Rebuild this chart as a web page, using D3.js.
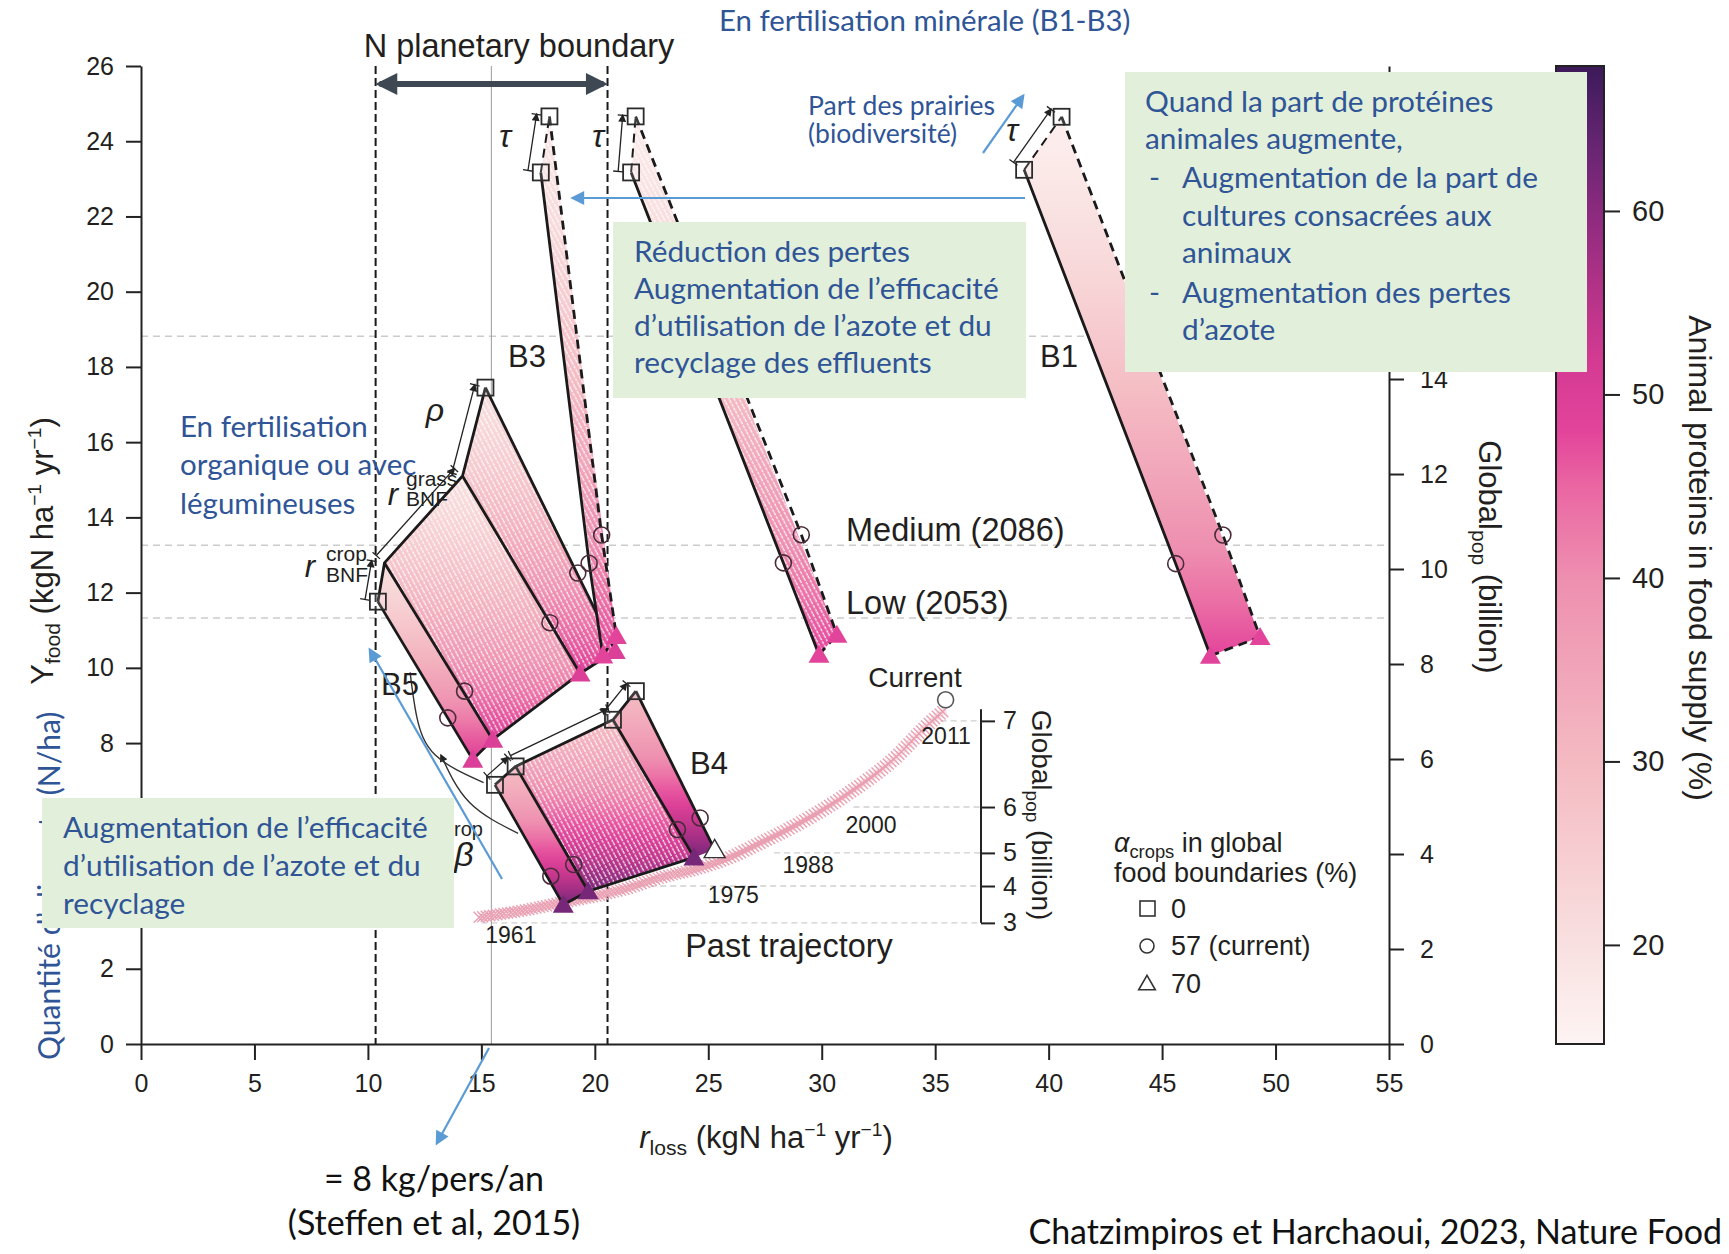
<!DOCTYPE html>
<html>
<head>
<meta charset="utf-8">
<script src="https://cdn.jsdelivr.net/npm/d3@7/dist/d3.min.js"></script>
<style>
  body { margin: 0; background: #fff; }
  text { font-family: "Liberation Sans", Arial, sans-serif; fill: #231f20; }
  text.note { font-family: Lato, "Open Sans", sans-serif; fill: #2f5597; }
  text.black { font-family: Lato, "Open Sans", sans-serif; fill: #111; }
</style>
</head>
<body>
<svg id="chart" width="1729" height="1254"></svg>
<script>
// ---------- values ----------
const xTicks = d3.range(0, 56, 5);
const yTicks = d3.range(0, 27, 2);
const popTicks = d3.range(0, 21, 2);
const popScenarioLines = [14.9, 10.5, 8.97];     // global pop (billion)
const nBoundary = [10.34, 20.56];                // r_loss, N planetary boundary
const nBoundaryMid = 15.44;
const proteinTicks = [20, 30, 40, 50, 60];
const proteinRange = [14.6, 67.9];
const cbarStops  = [14.6, 20, 30, 40, 45, 48, 52, 56, 60, 64, 67.9];
const cbarColors = ["#fdf4f3", "#f9e0e0", "#f4bac2", "#ee8fb0", "#ea66a2", "#e3449b",
                    "#d33a92", "#b03286", "#8b2a7f", "#622470", "#3c1a5a"];

// mineral fertilisation scenarios: [r_loss, Y_food]
const b1Squares   = [[38.92, 23.24], [40.57, 24.65]];
const b1Circles   = [[45.6, 12.77], [47.68, 13.53]];
const b1Triangles = [[47.13, 10.32], [49.32, 10.82]];
const b2Squares   = [[21.6, 23.17], [21.8, 24.66]];
const b2Circles   = [[28.31, 12.79], [29.1, 13.54]];
const b2Triangles = [[29.88, 10.35], [30.67, 10.88]];
const b3Squares   = [[17.62, 23.17], [18.0, 24.66]];
const b3Circles   = [[19.75, 12.78], [20.3, 13.53]];
const b3Triangles = [[20.35, 10.33], [20.95, 10.85]];
// organic / legume scenarios
const b5Squares   = [[10.44, 11.76], [15.18, 17.45]];
const b5Corners   = [[10.73, 12.79], [14.17, 15.1]];
const b5Circles   = [[13.52, 8.67], [14.26, 9.38], [18.02, 11.2], [19.25, 12.52]];
const b5Triangles = [[14.62, 7.56], [15.5, 8.09], [19.35, 9.85], [20.9, 10.45]];
const b4Squares   = [[15.6, 6.89], [16.51, 7.38], [20.8, 8.62], [21.81, 9.38]];
const b4Circles   = [[18.06, 4.46], [19.07, 4.77], [23.64, 5.7], [24.64, 6.01]];
const b4Triangles = [[18.61, 3.7], [19.71, 4.06], [24.37, 4.96], [25.28, 5.17]];

const scenarioNames = ["B1", "B2", "B3", "B4", "B5"];
const proteinTop    = [16, 17, 18, 30, 20];
const proteinBottom = [48, 48, 48, 62, 50];

// past trajectory 1961-2011
const pastLoss = [14.9, 16.84, 18.45, 20.0, 21.36, 22.91, 24.32, 25.83, 27.28, 28.74, 30.19, 31.65, 33.11, 34.56, 35.44];
const pastFood = [3.37, 3.55, 3.75, 3.93, 4.13, 4.43, 4.63, 4.93, 5.34, 5.78, 6.28, 6.86, 7.54, 8.42, 8.89];
const currentPoint = [35.46, 9.15];
const pastPopTicks = [3, 4, 5, 6, 7];
const pastPopFood = [3.22, 4.2, 5.08, 6.3, 8.59];
const pastPopLineStart = [15.0, 22.0, 27.9, 31.4, 34.8];
const pastYears = ["1961", "1975", "1988", "2000", "2011"];

// ---------- layout ----------
const svg = d3.select("#chart");
const x = d3.scaleLinear().domain([0, 55]).range([141, 1389]);
const y = d3.scaleLinear().domain([0, 26]).range([1044, 66]);
const yPop = d3.scaleLinear().domain([0, 20.59]).range([1044, 66]);
const yProt = d3.scaleLinear().domain(proteinRange).range([1044, 66]);
const colour = d3.scaleLinear().domain(cbarStops).range(cbarColors).clamp(true);
const innerAxisX = 37.02;
const yearLabelPos = [[16.3, 2.9], [26.1, 3.96], [29.4, 4.77], [32.17, 5.83], [35.48, 8.18]];
// green note boxes of the slide [x, y, w, h]
const noteRects = [[613, 222, 413, 176], [1125, 72, 462, 300], [42, 798, 412, 130]];
const underNote = (px, py) => noteRects.some(r => px > r[0] && px < r[0] + r[2] && py > r[1] && py < r[1] + r[3]);

const defs = svg.append("defs");
const hatch = defs.append("pattern").attr("id", "hatch").attr("patternUnits", "userSpaceOnUse")
  .attr("width", 4.5).attr("height", 12).attr("patternTransform", "rotate(-28)");
hatch.append("line").attr("x1", 2).attr("x2", 2).attr("y1", 0).attr("y2", 12)
  .attr("stroke", "#fff").attr("stroke-width", 1.3).attr("stroke-opacity", 0.9)
  .attr("stroke-dasharray", "3,1.2");

function marker(id, fill, w, h) {
  defs.append("marker").attr("id", id).attr("viewBox", "0 0 10 10").attr("refX", 8).attr("refY", 5)
    .attr("markerUnits", "userSpaceOnUse").attr("markerWidth", w).attr("markerHeight", h)
    .attr("orient", "auto-start-reverse")
    .append("path").attr("d", "M0,0L10,5L0,10Z").attr("fill", fill);
}
marker("arrSmall", "#222", 9, 8);
marker("arrBlue", "#5b9bd5", 16, 14);
marker("arrBig", "#3d4852", 24, 22);

// ---------- grid & reference lines ----------
const grid = svg.append("g");
popScenarioLines.forEach(v => grid.append("line")
  .attr("x1", x(0)).attr("x2", x(55)).attr("y1", yPop(v)).attr("y2", yPop(v))
  .attr("stroke", "#cbcbcb").attr("stroke-width", 1.6).attr("stroke-dasharray", "7,5"));
pastPopFood.forEach((v, i) => grid.append("line")
  .attr("x1", x(pastPopLineStart[i])).attr("x2", x(innerAxisX)).attr("y1", y(v)).attr("y2", y(v))
  .attr("stroke", "#cfcfcf").attr("stroke-width", 1.3).attr("stroke-dasharray", "6,4"));
grid.append("line").attr("x1", x(nBoundaryMid)).attr("x2", x(nBoundaryMid)).attr("y1", y(26)).attr("y2", y(0))
  .attr("stroke", "#9a9a9a").attr("stroke-width", 1);
nBoundary.forEach(v => grid.append("line").attr("x1", x(v)).attr("x2", x(v)).attr("y1", y(26)).attr("y2", y(0))
  .attr("stroke", "#1a1a1a").attr("stroke-width", 2).attr("stroke-dasharray", "8,4"));

// ---------- past trajectory ----------
const past = svg.append("g");
const pastLine = d3.line().curve(d3.curveCatmullRom).x((d, i) => x(pastLoss[i])).y((d, i) => y(pastFood[i]));
past.append("path").attr("d", pastLine(pastLoss)).attr("fill", "none")
  .attr("stroke", "#f5d3da").attr("stroke-width", 7).attr("opacity", 0.6);
const pathNode = past.append("path").attr("d", pastLine(pastLoss)).attr("fill", "none").node();
const total = pathNode.getTotalLength();
let crossD = "";
for (let s = 0; s <= total; s += 3.6) {
  const p = pathNode.getPointAtLength(s);
  crossD += `M${p.x - 5.5},${p.y - 5.5}L${p.x + 5.5},${p.y + 5.5}M${p.x - 5.5},${p.y + 5.5}L${p.x + 5.5},${p.y - 5.5}`;
}
past.append("path").attr("d", crossD).attr("stroke", "#e9a0b2").attr("stroke-width", 1.4).attr("fill", "none");

// ---------- scenario bands ----------
let gradCount = 0;
function bandPath(pts) { return "M" + pts.map(p => x(p[0]) + "," + y(p[1])).join("L") + "Z"; }
function band(layer, pts, k, hatched) {
  const ys = pts.map(p => y(p[1]));
  const id = "grad" + (gradCount++);
  const g = defs.append("linearGradient").attr("id", id).attr("gradientUnits", "userSpaceOnUse")
    .attr("x1", 0).attr("x2", 0).attr("y1", d3.min(ys)).attr("y2", d3.max(ys));
  d3.range(0, 1.001, 0.1).forEach(t => g.append("stop").attr("offset", t)
    .attr("stop-color", colour(proteinTop[k] + (proteinBottom[k] - proteinTop[k]) * Math.pow(t, 1.3))));
  layer.append("path").attr("d", bandPath(pts)).attr("fill", `url(#${id})`);
  if (hatched) layer.append("path").attr("d", bandPath(pts)).attr("fill", "url(#hatch)");
}
function seg(layer, pts, dashed, w) {
  layer.append("path").attr("d", d3.line().x(p => x(p[0])).y(p => y(p[1]))(pts))
    .attr("fill", "none").attr("stroke", "#1a1a1a").attr("stroke-width", w || 2.8)
    .attr("stroke-linejoin", "round").attr("stroke-dasharray", dashed ? "9,6" : null);
}
function bracket(layer, a, b, off) {
  const ax = x(a[0]), ay = y(a[1]), bx = x(b[0]), by = y(b[1]);
  const dx = bx - ax, dy = by - ay, L = Math.hypot(dx, dy);
  const nx = dy / L, ny = -dx / L;
  const p1 = [ax + nx * off, ay + ny * off], p2 = [bx + nx * off, by + ny * off];
  layer.append("line").attr("x1", p1[0]).attr("y1", p1[1]).attr("x2", p2[0]).attr("y2", p2[1])
    .attr("stroke", "#222").attr("stroke-width", 1.3).attr("marker-end", "url(#arrSmall)");
  [p1, p2].forEach(p => layer.append("line")
    .attr("x1", p[0] - nx * 5).attr("y1", p[1] - ny * 5).attr("x2", p[0] + nx * 5).attr("y2", p[1] + ny * 5)
    .attr("stroke", "#222").attr("stroke-width", 1.3));
}
function drawSquares(layer, pts) {
  layer.selectAll(null).data(pts).join("rect")
    .attr("x", p => x(p[0]) - 8).attr("y", p => y(p[1]) - 8).attr("width", 16).attr("height", 16)
    .attr("fill", "rgba(255,255,255,0.15)").attr("stroke", "#2b2b2b").attr("stroke-width", 1.8);
}
function drawCircles(layer, pts) {
  layer.selectAll(null).data(pts).join("circle")
    .attr("cx", p => x(p[0])).attr("cy", p => y(p[1])).attr("r", 8)
    .attr("fill", "none").attr("stroke", "#4b2b3b").attr("stroke-width", 1.6);
}
function drawTriangles(layer, pts, fill, hollowLast) {
  layer.selectAll(null).data(pts).join("path")
    .attr("d", d3.symbol(d3.symbolTriangle, 190))
    .attr("transform", p => `translate(${x(p[0])},${y(p[1]) + 2})`)
    .attr("fill", (p, i) => hollowLast && i === pts.length - 1 ? "#fff" : fill)
    .attr("stroke", (p, i) => hollowLast && i === pts.length - 1 ? "#333" : "none")
    .attr("stroke-width", 1.4);
}

// B5
const g5 = svg.append("g");
const k5 = scenarioNames.indexOf("B5");
band(g5, [b5Squares[0], b5Corners[0], b5Triangles[1], b5Triangles[0]], k5, false);
band(g5, [b5Corners[0], b5Corners[1], b5Triangles[2], b5Triangles[1]], k5, true);
band(g5, [b5Corners[1], b5Squares[1], b5Triangles[3], b5Triangles[2]], k5, true);
seg(g5, [b5Squares[0], b5Triangles[0]]);
seg(g5, [b5Corners[0], b5Triangles[1]]);
seg(g5, [b5Corners[1], b5Triangles[2]]);
seg(g5, [b5Squares[1], b5Triangles[3]]);
seg(g5, [b5Triangles[0], b5Triangles[1], b5Triangles[2], b5Triangles[3]]);
seg(g5, [b5Squares[0], b5Corners[0], b5Corners[1], b5Squares[1]]);
bracket(g5, b5Squares[0], b5Corners[0], 13);
bracket(g5, b5Corners[0], b5Corners[1], 11);
bracket(g5, b5Corners[1], b5Squares[1], 11);
drawTriangles(g5, b5Triangles, colour(proteinBottom[k5]));
drawCircles(g5, b5Circles);
drawSquares(g5, b5Squares);

// B4
const g4 = svg.append("g");
const k4 = scenarioNames.indexOf("B4");
band(g4, [b4Squares[0], b4Squares[1], b4Triangles[1], b4Triangles[0]], k4, false);
band(g4, [b4Squares[1], b4Squares[2], b4Triangles[2], b4Triangles[1]], k4, true);
band(g4, [b4Squares[2], b4Squares[3], b4Triangles[3], b4Triangles[2]], k4, false);
b4Squares.forEach((s, i) => seg(g4, [s, b4Triangles[i]]));
seg(g4, b4Squares);
seg(g4, b4Triangles.slice(0, 3));
bracket(g4, b4Squares[0], b4Squares[1], 12);
bracket(g4, b4Squares[1], b4Squares[2], 12);
bracket(g4, b4Squares[2], b4Squares[3], 12);
drawTriangles(g4, b4Triangles, colour(proteinBottom[k4]), true);
drawCircles(g4, b4Circles);
drawSquares(g4, b4Squares);

// B3, B2, B1
[[b3Squares, b3Circles, b3Triangles, "B3", true],
 [b2Squares, b2Circles, b2Triangles, "B2", true],
 [b1Squares, b1Circles, b1Triangles, "B1", false]].forEach(([sq, ci, tr, name, hatched]) => {
  const g = svg.append("g");
  const k = scenarioNames.indexOf(name);
  band(g, [sq[0], sq[1], tr[1], tr[0]], k, hatched);
  seg(g, [sq[0], ci[0], tr[0]]);
  seg(g, [sq[1], ci[1], tr[1]], true);
  seg(g, [tr[0], tr[1]], true);
  seg(g, [sq[0], sq[1]], true, 2);
  bracket(g, sq[0], sq[1], 13);
  drawTriangles(g, tr, colour(proteinBottom[k]));
  drawCircles(g, ci);
  drawSquares(g, sq);
});

// curved arrows near B4 / B5
const curve = d3.line().curve(d3.curveNatural).x(p => x(p[0])).y(p => y(p[1]));
svg.append("path").attr("d", curve([[16.62, 5.6], [14.48, 6.42], [13.22, 7.68]]))
  .attr("fill", "none").attr("stroke", "#333").attr("stroke-width", 1.4).attr("marker-end", "url(#arrSmall)");
svg.append("path").attr("d", curve([[11.86, 9.88], [12.15, 8.71], [12.97, 7.68], [15.1, 6.95]]))
  .attr("fill", "none").attr("stroke", "#333").attr("stroke-width", 1.4);

// past trajectory end point + inner axis
svg.append("circle").attr("cx", x(currentPoint[0])).attr("cy", y(currentPoint[1])).attr("r", 8)
  .attr("fill", "#fff").attr("stroke", "#555").attr("stroke-width", 1.6);
const inner = svg.append("g").attr("transform", `translate(${x(innerAxisX)},0)`)
  .call(d3.axisRight(y).tickValues(pastPopFood).tickFormat((d, i) => pastPopTicks[i]).tickSize(14).tickPadding(8));
inner.select(".domain").remove();
inner.append("line").attr("y1", y(pastPopFood[0])).attr("y2", y(8.9)).attr("stroke", "#222").attr("stroke-width", 2);
inner.selectAll("text").attr("font-size", 25).attr("font-family", "Liberation Sans, Arial, sans-serif").attr("fill", "#231f20");
inner.selectAll(".tick line").attr("stroke", "#222").attr("stroke-width", 2);
pastYears.forEach((t, i) => svg.append("text").attr("x", x(yearLabelPos[i][0])).attr("y", y(yearLabelPos[i][1]))
  .attr("text-anchor", "middle").attr("dominant-baseline", "central").attr("font-size", 23).text(t));

// ---------- axes ----------
function styleAxis(g, fs) {
  g.select(".domain").attr("stroke", "#222").attr("stroke-width", 2);
  g.selectAll(".tick line").attr("stroke", "#222").attr("stroke-width", 2);
  g.selectAll("text").attr("font-size", fs).attr("font-family", "Liberation Sans, Arial, sans-serif").attr("fill", "#231f20");
}
styleAxis(svg.append("g").attr("transform", `translate(${x(0)},0)`)
  .call(d3.axisLeft(y).tickValues(yTicks).tickSize(15).tickSizeOuter(0).tickPadding(12)
    .tickFormat(v => underNote(x(0) - 30, y(v)) ? "" : v)), 25);
styleAxis(svg.append("g").attr("transform", `translate(0,${y(0)})`)
  .call(d3.axisBottom(x).tickValues(xTicks).tickSize(16).tickSizeOuter(0).tickPadding(14)), 25);
styleAxis(svg.append("g").attr("transform", `translate(${x(55)},0)`)
  .call(d3.axisRight(yPop).tickValues(popTicks).tickSize(15).tickSizeOuter(0).tickPadding(16)
    .tickFormat(v => underNote(x(55) + 40, yPop(v)) ? "" : v)), 25);

// N planetary boundary arrow
svg.append("line").attr("x1", x(nBoundary[0]) + 4).attr("x2", x(nBoundary[1]) - 4).attr("y1", 84).attr("y2", 84)
  .attr("stroke", "#3d4852").attr("stroke-width", 6)
  .attr("marker-start", "url(#arrBig)").attr("marker-end", "url(#arrBig)");
svg.append("text").attr("x", 519).attr("y", 57).attr("text-anchor", "middle").attr("font-size", 32.5).text("N planetary boundary");

// axis labels
function subsup(t, parts, fs) {
  parts.forEach(([s, kind, italic]) => {
    const sp = t.append("tspan").text(s);
    if (italic) sp.attr("font-style", "italic");
    if (kind === "sub") sp.attr("font-size", fs * 0.68).attr("dy", fs * 0.22);
    if (kind === "sup") sp.attr("font-size", fs * 0.62).attr("dy", -fs * 0.38);
    if (kind === "back-sub") sp.attr("dy", -fs * 0.22);
    if (kind === "back-sup") sp.attr("dy", fs * 0.38);
  });
}
subsup(svg.append("text").attr("transform", "translate(53,551) rotate(-90)").attr("text-anchor", "middle").attr("font-size", 31),
  [["Y"], ["food", "sub"], [" (kgN ha", "back-sub"], ["−1", "sup"], [" yr", "back-sup"], ["−1", "sup"], [")", "back-sup"]], 31);
subsup(svg.append("text").attr("x", 766).attr("y", 1148).attr("text-anchor", "middle").attr("font-size", 31),
  [["r", null, true], ["loss", "sub"], [" (kgN ha", "back-sub"], ["−1", "sup"], [" yr", "back-sup"], ["−1", "sup"], [")", "back-sup"]], 31);
subsup(svg.append("text").attr("transform", "translate(1479,557) rotate(90)").attr("text-anchor", "middle").attr("font-size", 31),
  [["Global"], ["pop", "sub"], [" (billion)", "back-sub"]], 31);
subsup(svg.append("text").attr("transform", "translate(1032,815) rotate(90)").attr("text-anchor", "middle").attr("font-size", 28),
  [["Global"], ["pop", "sub"], [" (billion)", "back-sub"]], 28);

// ---------- colour bar ----------
const cg = defs.append("linearGradient").attr("id", "cbar").attr("x1", 0).attr("x2", 0).attr("y1", 1).attr("y2", 0);
cbarStops.forEach((s, i) => cg.append("stop")
  .attr("offset", (s - proteinRange[0]) / (proteinRange[1] - proteinRange[0])).attr("stop-color", cbarColors[i]));
svg.append("rect").attr("x", 1556).attr("y", yProt(proteinRange[1])).attr("width", 48)
  .attr("height", yProt(proteinRange[0]) - yProt(proteinRange[1]))
  .attr("fill", "url(#cbar)").attr("stroke", "#222").attr("stroke-width", 2);
const cax = svg.append("g").attr("transform", "translate(1604,0)")
  .call(d3.axisRight(yProt).tickValues(proteinTicks).tickSize(16).tickSizeOuter(0).tickPadding(12));
cax.select(".domain").remove();
styleAxis(cax, 29);
svg.append("text").attr("transform", "translate(1689,558) rotate(90)").attr("text-anchor", "middle")
  .attr("font-size", 32).text("Animal proteins in food supply (%)");

// ---------- chart labels ----------
function label(txt, px, py, fs, anchor, italic) {
  return svg.append("text").attr("x", px).attr("y", py).attr("font-size", fs)
    .attr("text-anchor", anchor || "middle").attr("dominant-baseline", "central")
    .attr("font-style", italic ? "italic" : null).text(txt);
}
label("B3", 527, 356, 31);
label("B1", 1059, 356, 31);
label("B5", 400, 684, 31);
label("B4", 709, 763, 31);
label("Medium (2086)", 846, 530, 32.5, "start");
label("Low (2053)", 846, 603, 32.5, "start");
label("Current", 915, 677, 28);
label("Past trajectory", 789, 946, 32.5);
label("τ", 505, 136, 32, "middle", true);
label("τ", 598, 136, 32, "middle", true);
label("τ", 1012, 130, 32, "middle", true);
label("ρ", 435, 410, 32, "middle", true);
label("β", 464, 854, 34, "middle", true);
label("crop", 444, 829, 20, "start");
label("r", 310, 566, 31, "middle", true);
label("crop", 326, 553, 21, "start");
label("BNF", 326, 574, 21, "start");
label("r", 393, 494, 31, "middle", true);
label("grass", 406, 478, 21, "start");
label("BNF", 406, 498, 21, "start");

// legend
const lg = svg.append("g");
subsup(lg.append("text").attr("x", 1114).attr("y", 852).attr("font-size", 27),
  [["α", null, true], ["crops", "sub"], [" in global", "back-sub"]], 27);
lg.append("text").attr("x", 1114).attr("y", 882).attr("font-size", 27).text("food boundaries (%)");
lg.append("rect").attr("x", 1140).attr("y", 901).attr("width", 15).attr("height", 15)
  .attr("fill", "none").attr("stroke", "#333").attr("stroke-width", 1.6);
lg.append("circle").attr("cx", 1147).attr("cy", 946).attr("r", 7).attr("fill", "none").attr("stroke", "#333").attr("stroke-width", 1.6);
lg.append("path").attr("d", d3.symbol(d3.symbolTriangle, 120)).attr("transform", "translate(1147,985)")
  .attr("fill", "none").attr("stroke", "#333").attr("stroke-width", 1.6);
["0", "57 (current)", "70"].forEach((t, i) => lg.append("text").attr("x", 1171).attr("y", [918, 955, 993][i])
  .attr("font-size", 27).text(t));

// ---------- slide annotations ----------
svg.append("text").attr("class", "note").attr("transform", "translate(60,1060) rotate(-90)")
  .attr("font-size", 30).text("Quantité d’aliments (N/ha)");

function noteBox(r) {
  svg.append("rect").attr("x", r[0]).attr("y", r[1]).attr("width", r[2]).attr("height", r[3]).attr("fill", "#e2efda");
}
function noteLines(lines, px, baselines, fs) {
  lines.forEach((t, i) => svg.append("text").attr("class", "note").attr("x", px[i])
    .attr("y", baselines[i]).attr("font-size", fs).text(t));
}
noteRects.forEach(noteBox);
noteLines(["Réduction des pertes", "Augmentation de l’efficacité", "d’utilisation de l’azote et du", "recyclage des effluents"],
  [634, 634, 634, 634], [262, 299, 336, 373], 29.8);
noteLines(["Quand la part de protéines", "animales augmente,", "-", "Augmentation de la part de",
           "cultures consacrées aux", "animaux", "-", "Augmentation des pertes", "d’azote"],
  [1145, 1145, 1149, 1182, 1182, 1182, 1149, 1182, 1182], [112, 149, 188, 188, 226, 263, 303, 303, 340], 29.8);
noteLines(["Augmentation de l’efficacité", "d’utilisation de l’azote et du", "recyclage"], [63, 63, 63], [838, 876, 914], 29.8);

noteLines(["En fertilisation minérale (B1-B3)"], [719], [31], 29.4);
noteLines(["Part des prairies", "(biodiversité)"], [808, 808], [115, 143], 26.5);
noteLines(["En fertilisation", "organique ou avec", "légumineuses"], [180, 180, 180], [437, 475, 514], 29.5);

function blueArrow(x1, y1, x2, y2) {
  svg.append("line").attr("x1", x1).attr("y1", y1).attr("x2", x2).attr("y2", y2)
    .attr("stroke", "#5b9bd5").attr("stroke-width", 2.2).attr("marker-end", "url(#arrBlue)");
}
blueArrow(1025, 198, 573, 198);
blueArrow(983, 153, 1023, 96);
blueArrow(502, 879, 370, 650);
blueArrow(489, 1048, 437, 1143);

svg.append("text").attr("class", "black").attr("x", 434).attr("y", 1191).attr("text-anchor", "middle")
  .attr("font-size", 34).text("= 8 kg/pers/an");
svg.append("text").attr("class", "black").attr("x", 434).attr("y", 1235).attr("text-anchor", "middle")
  .attr("font-size", 34).text("(Steffen et al, 2015)");
svg.append("text").attr("class", "black").attr("x", 1722).attr("y", 1244).attr("text-anchor", "end")
  .attr("font-size", 34).text("Chatzimpiros et Harchaoui, 2023, Nature Food");
</script>
</body>
</html>
